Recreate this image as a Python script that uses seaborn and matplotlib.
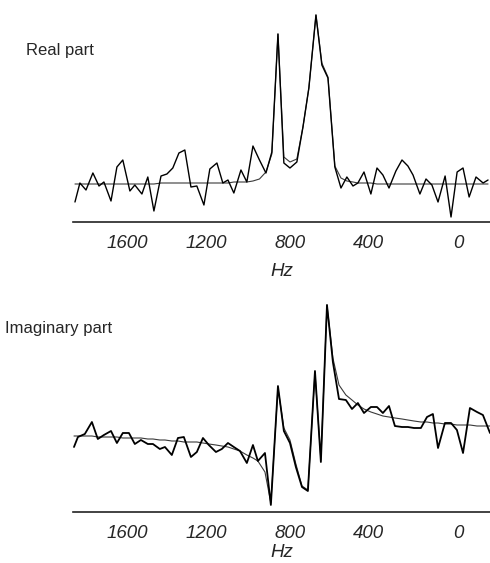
import matplotlib
matplotlib.use("Agg")
import matplotlib.pyplot as plt
import seaborn as sns
import pandas as pd

# ---- data ----
real_hz = [1972, 1947, 1916, 1881, 1850, 1825, 1789, 1759, 1729, 1693,
           1668, 1632, 1602, 1571, 1535, 1505, 1475, 1444, 1414, 1383,
           1353, 1317, 1287, 1251, 1221, 1195, 1165, 1129, 1099, 1068,
           1035, 1002, 972, 941, 911, 880, 845, 814, 784, 748,
           718, 687, 652, 621, 591, 560, 535, 504, 469, 438,
           408, 377, 342, 311, 281, 255, 220, 189, 159, 128,
           92, 62, 31, 1, -30, -65, -101, -126]
real_data = [-18, 1, -6, 11, -2, 2, -17, 17, 24, -7,
             -1, -10, 7, -27, 8, 10, 16, 31, 34, -3,
             -2, -21, 15, 21, 1, 4, -9, 14, 2, 38,
             24, 11, 32, 150, 21, 16, 22, 57, 96, 169,
             119, 106, 17, -4, 7, -2, 1, 12, -10, 16,
             9, -4, 13, 24, 18, 9, -10, 5, -1, -18,
             8, -33, 12, 16, -13, 7, 1, 4]
real_fit = [0, 0, 0, 0, 0, 0, 0, 0, 0, 0,
            0, 0, 0, 0, 1, 1, 1, 1, 1, 1,
            1, 1, 1, 1, 1, 1, 2, 2, 2, 3,
            5, 12, 30, 150, 27, 22, 25, 57, 96, 169,
            121, 107, 18, 6, 3, 2, 1, 1, 1, 0,
            0, 0, 0, 0, 0, 0, 0, 0, 0, 0,
            0, 0, 0, 0, 0, 0, 0, 0]

imag_hz = [1977, 1957, 1922, 1886, 1856, 1825, 1789, 1759, 1729, 1698,
           1668, 1637, 1602, 1576, 1541, 1515, 1480, 1449, 1419, 1383,
           1353, 1322, 1292, 1256, 1226, 1195, 1165, 1134, 1099, 1068,
           1043, 1007, 977, 941, 911, 880, 850, 819, 789, 753,
           723, 692, 662, 631, 596, 565, 535, 504, 469, 438,
           408, 377, 347, 311, 281, 250, 215, 184, 154, 128,
           93, 62, 32, 1, -34, -70, -100, -136]
imag_data = [-11, -1, 2, 14, -3, 1, 5, -7, 3, 3,
             -8, -4, -8, -8, -13, -11, -19, -2, -1, -21,
             -16, -2, -9, -16, -13, -7, -11, -15, -27, -9,
             -25, -17, -69, 50, 5, -7, -31, -51, -55, 65,
             -26, 131, 74, 37, 36, 27, 33, 23, 29, 29,
             23, 30, 10, 9, 9, 8, 8, 19, 22, -12,
             13, 13, 6, -17, 28, 24, 21, 3]
imag_fit = [0, 0, 0, 0, -1, -1, -1, -1, -2, -2,
            -2, -2, -3, -3, -4, -4, -5, -5, -6, -6,
            -6, -7, -8, -9, -10, -11, -13, -15, -19, -22,
            -25, -36, -67, 48, 8, -4, -28, -50, -54, 64,
            -24, 131, 78, 51, 41, 36, 31, 27, 24, 22,
            20, 19, 18, 17, 16, 15, 14, 14, 13, 13,
            12, 12, 11, 11, 11, 10, 10, 10]

tick_vals = [1600, 1200, 800, 400, 0]
panel_titles = ["Real part", "Imaginary part"]

sns.set_style("white")
plt.rcParams['font.family'] = ['Liberation Sans', 'DejaVu Sans']

fig = plt.figure(figsize=(4.9, 5.63), dpi=100)
ax1 = fig.add_axes([73/490, 1-222/563, 1-73/490, (222-10)/563])
ax2 = fig.add_axes([73/490, 1-512/563, 1-73/490, (512-300)/563])

panels = [
    (ax1, real_hz, real_data, real_fit, (-38, 174), 1.0, 8),
    (ax2, imag_hz, imag_data, imag_fit, (-76, 136), 1.3, 2),
]
for ax, hz, dat, fit, ylim, lw, lpad in panels:
    df = pd.DataFrame({"Hz": hz, "data": dat, "fit": fit})
    sns.lineplot(data=df, x="Hz", y="fit", ax=ax, color="#3a3a3a",
                 linewidth=0.8, estimator=None, sort=False)
    sns.lineplot(data=df, x="Hz", y="data", ax=ax, color="black",
                 linewidth=lw, estimator=None, sort=False)
    ax.set_xlim(1982, -136)
    ax.set_ylim(*ylim)
    for s in ["left", "top", "right"]:
        ax.spines[s].set_visible(False)
    ax.spines["bottom"].set_color("#222222")
    ax.spines["bottom"].set_linewidth(1.2)
    ax.set_yticks([])
    ax.set_ylabel("")
    ax.set_xticks(tick_vals)
    ax.set_xticklabels([str(t) for t in tick_vals], fontstyle="italic",
                       fontsize=13.5, ha="right")
    ax.tick_params(axis="x", direction="out", length=4, width=1, color="#222222", pad=5)
    ax.set_xlabel("Hz", fontstyle="italic", fontsize=13.5, labelpad=lpad)
    ax.set_facecolor("none")

fig.text(26/490, 1-50/563, panel_titles[0], fontsize=12, va="center", ha="left")
fig.text(5/490, 1-328/563, panel_titles[1], fontsize=12, va="center", ha="left")

fig.savefig("out.png", dpi=100)
